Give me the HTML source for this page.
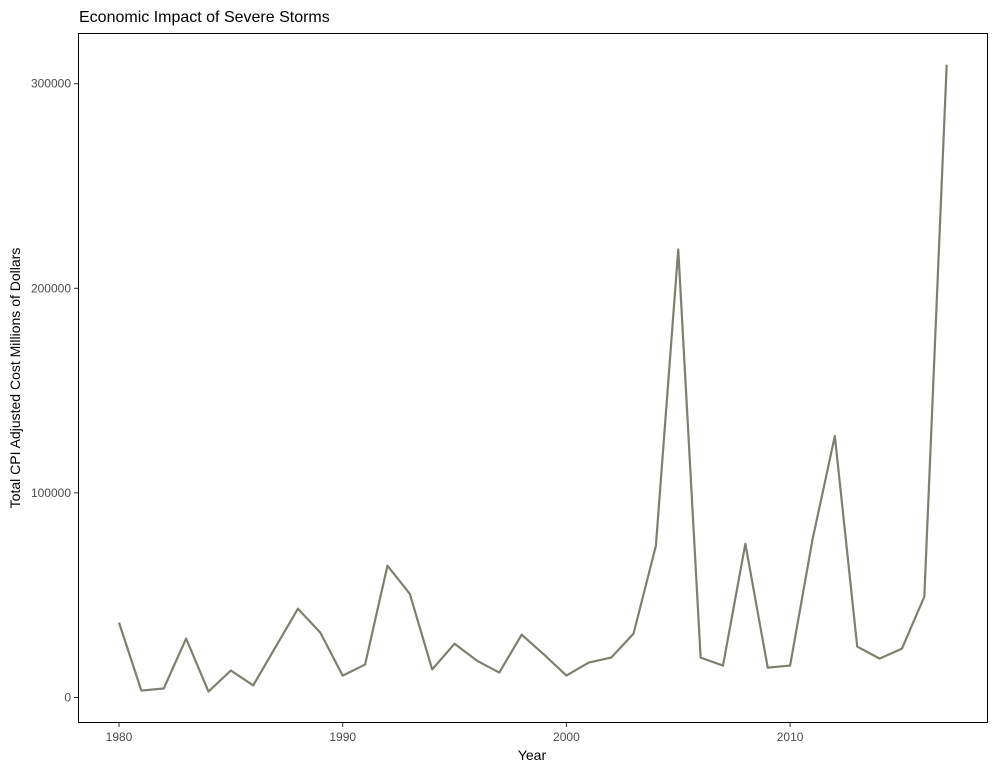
<!DOCTYPE html>
<html><head><meta charset="utf-8"><style>
body{margin:0;background:#fff;font-family:"Liberation Sans",sans-serif}
</style></head><body>
<svg id="chart" width="995" height="767" xmlns="http://www.w3.org/2000/svg">
<text x="79" y="22" font-size="16" fill="#000">Economic Impact of Severe Storms</text>
<rect x="78.5" y="33.5" width="909" height="689" fill="none" stroke="#000" stroke-width="1"/>
<g id="xaxis"></g><g id="yaxis"></g><g id="series"></g>
<text x="532" y="760" font-size="14" text-anchor="middle" fill="#000">Year</text>
<text transform="translate(20,378) rotate(-90)" font-size="14" text-anchor="middle" fill="#000">Total CPI Adjusted Cost Millions of Dollars</text>
</svg>
<script>
const years=[1980,1981,1982,1983,1984,1985,1986,1987,1988,1989,1990,1991,1992,1993,1994,1995,1996,1997,1998,1999,2000,2001,2002,2003,2004,2005,2006,2007,2008,2009,2010,2011,2012,2013,2014,2015,2016,2017];
const costs=[36600,3400,4400,28800,2900,13200,5900,24700,43400,31700,10700,16100,64400,50700,13700,26300,18000,12200,30700,21000,10700,17100,19500,31200,74100,219000,19500,15600,75100,14600,15600,77100,127800,24900,19000,23900,49300,309300];
const xTicks=[1980,1990,2000,2010];
const yTicks=[0,100000,200000,300000];
const NS="http://www.w3.org/2000/svg";
const x=v=>119+(v-1980)*22.37;
const y=v=>697.5-v*0.002046;
const xa=document.getElementById('xaxis'),ya=document.getElementById('yaxis'),sg=document.getElementById('series');
function mk(tag,attrs,parent){const e=document.createElementNS(NS,tag);for(const k in attrs)e.setAttribute(k,attrs[k]);parent.appendChild(e);return e;}
xTicks.forEach(t=>{
 const l=mk('line',{x1:x(t),x2:x(t),y1:723,y2:727,stroke:'#333'},xa);
 
 
 const tx=mk('text',{x:x(t),y:741,'font-size':12,'text-anchor':'middle',fill:'#4d4d4d'},xa);
 tx.textContent=t;
 
 
});
yTicks.forEach(t=>{
 const l=mk('line',{x1:74,x2:78,y1:y(t),y2:y(t),stroke:'#333'},ya);
 
 
 const tx=mk('text',{x:71,y:y(t)+4,'font-size':12,'text-anchor':'end',fill:'#4d4d4d'},ya);
 tx.textContent=t;
 
 
});
const p=mk('polyline',{points:years.map((v,i)=>x(v)+','+y(costs[i])).join(' '),fill:'none',stroke:'#7f7f6f','stroke-width':2.2,'stroke-linejoin':'round'},sg);


</script>
</body></html>
